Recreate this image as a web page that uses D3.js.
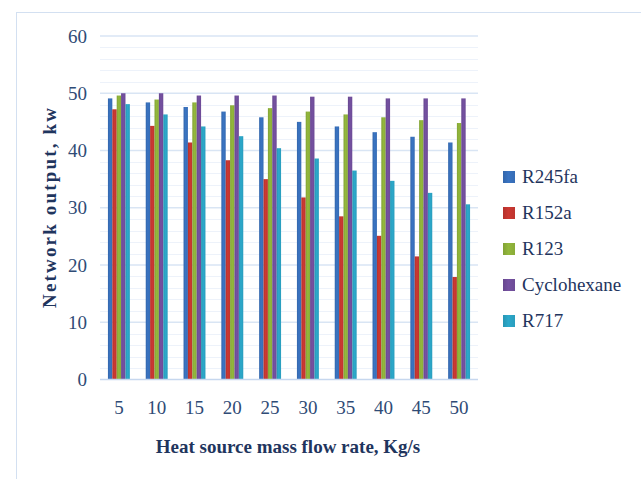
<!DOCTYPE html>
<html>
<head>
<meta charset="utf-8">
<script src="https://cdn.jsdelivr.net/npm/d3@7"></script>
<style>
  body { margin: 0; background: #fff; }
  text { font-family: "Liberation Serif", "Times New Roman", serif; }
</style>
</head>
<body>
<div id="container"></div>
<script>
const flowRates = ["5", "10", "15", "20", "25", "30", "35", "40", "45", "50"];
const fluids = ["R245fa", "R152a", "R123", "Cyclohexane", "R717"];
const colors = ["#3a74c2", "#cc3832", "#93b83c", "#7551a1", "#2ca9cb"];

const r245fa = [49.1, 48.4, 47.6, 46.8, 45.8, 45.0, 44.2, 43.2, 42.4, 41.4];
const r152a = [47.2, 44.3, 41.4, 38.3, 35.0, 31.8, 28.5, 25.1, 21.5, 17.9];
const r123 = [49.6, 48.9, 48.4, 47.9, 47.4, 46.8, 46.3, 45.8, 45.3, 44.8];
const cyclohexane = [50.0, 50.0, 49.6, 49.6, 49.6, 49.4, 49.4, 49.1, 49.1, 49.1];
const r717 = [48.1, 46.3, 44.2, 42.5, 40.4, 38.6, 36.5, 34.7, 32.6, 30.6];
const yTicks = [0, 10, 20, 30, 40, 50, 60];

const series = [r245fa, r152a, r123, cyclohexane, r717];
const data = flowRates.map((c, i) => ({
  rate: c,
  values: fluids.map((f, j) => ({ fluid: f, value: series[j][i] }))
}));

window.onload = () => {
  const W = 641, H = 479;
  const margin = {top: 36, left: 100, right: 163, bottom: 99.5};
  const width = W - margin.left - margin.right;
  const height = H - margin.top - margin.bottom;

  const svg = d3.select("#container")
    .append("svg")
    .attr("width", W)
    .attr("height", H);

  // chart border
  svg.append("rect")
    .attr("x", 16.5).attr("y", 12.5)
    .attr("width", 640).attr("height", 480)
    .attr("fill", "none")
    .attr("stroke", "#d3e0f1");

  const defs = svg.append("defs");
  colors.forEach((c, i) => {
    const g = defs.append("linearGradient")
      .attr("id", "grad" + i)
      .attr("x1", "0%").attr("x2", "100%");
    g.append("stop").attr("offset", "0%").attr("stop-color", d3.color(c).darker(0.35));
    g.append("stop").attr("offset", "45%").attr("stop-color", c);
    g.append("stop").attr("offset", "100%").attr("stop-color", d3.color(c).darker(0.2));
  });

  const g = svg.append("g")
    .attr("transform", "translate(" + margin.left + "," + margin.top + ")");

  const x = d3.scaleBand()
    .domain(flowRates)
    .range([0, width])
    .paddingInner(0.42)
    .paddingOuter(0.21);

  const x1 = d3.scaleBand()
    .domain(fluids)
    .range([0, x.bandwidth()]);

  const y = d3.scaleLinear()
    .domain([0, 60])
    .range([height, 0]);

  // minor gridlines
  g.append("g")
    .selectAll("line")
    .data(d3.range(2, 60, 2).filter(v => v % 10 !== 0))
    .join("line")
    .attr("x1", 0).attr("x2", width)
    .attr("y1", d => Math.round(y(d)) + 0.5)
    .attr("y2", d => Math.round(y(d)) + 0.5)
    .attr("stroke", "#edf2fa");

  // major gridlines
  g.append("g")
    .selectAll("line")
    .data(yTicks.filter(v => v > 0))
    .join("line")
    .attr("x1", 0).attr("x2", width)
    .attr("y1", d => y(d))
    .attr("y2", d => y(d))
    .attr("stroke", "#d9e5f4")
    .attr("stroke-width", 1.5);

  // bars
  g.append("g")
    .selectAll("g")
    .data(data)
    .join("g")
    .attr("transform", d => "translate(" + x(d.rate) + ",0)")
    .selectAll("rect")
    .data(d => d.values)
    .join("rect")
    .attr("x", d => x1(d.fluid))
    .attr("width", x1.bandwidth())
    .attr("y", d => y(d.value))
    .attr("height", d => height - y(d.value))
    .attr("fill", (d, i) => "url(#grad" + i + ")");

  // baseline
  g.append("line")
    .attr("x1", 0).attr("x2", width)
    .attr("y1", height).attr("y2", height)
    .attr("stroke", "#c6d7ee")
    .attr("stroke-width", 1.5);

  // y axis
  const yAxis = g.append("g")
    .call(d3.axisLeft(y).tickValues(yTicks).tickSize(0).tickPadding(13));
  yAxis.select(".domain").remove();
  yAxis.selectAll("text")
    .attr("font-size", 19)
    .attr("font-family", "Liberation Serif, serif")
    .attr("fill", "#2f4b76");

  // x axis
  const xAxis = g.append("g")
    .attr("transform", "translate(0," + height + ")")
    .call(d3.axisBottom(x).tickSize(0).tickPadding(21));
  xAxis.select(".domain").remove();
  xAxis.selectAll("text")
    .attr("font-size", 19)
    .attr("font-family", "Liberation Serif, serif")
    .attr("fill", "#2f4b76");

  // axis titles
  svg.append("text")
    .attr("x", 288)
    .attr("y", 453)
    .attr("text-anchor", "middle")
    .attr("font-size", 19)
    .attr("font-weight", "bold")
    .attr("fill", "#1f355e")
    .text("Heat source mass flow rate, Kg/s");

  svg.append("text")
    .attr("transform", "translate(56,208) rotate(-90)")
    .attr("text-anchor", "middle")
    .attr("font-size", 19)
    .attr("font-weight", "bold")
    .attr("fill", "#1f355e")
    .attr("textLength", 200)
    .attr("lengthAdjust", "spacing")
    .text("Network output, kw");

  // legend
  const legend = svg.append("g")
    .selectAll("g")
    .data(fluids)
    .join("g")
    .attr("transform", (d, i) => "translate(503," + (177 + i * 36) + ")");

  legend.append("rect")
    .attr("x", 0).attr("y", -6)
    .attr("width", 12).attr("height", 12)
    .attr("fill", (d, i) => "url(#grad" + i + ")");

  legend.append("text")
    .attr("x", 19)
    .attr("y", 6)
    .attr("font-size", 19)
    .attr("fill", "#1f355e")
    .text(d => d);
};
</script>
</body>
</html>
